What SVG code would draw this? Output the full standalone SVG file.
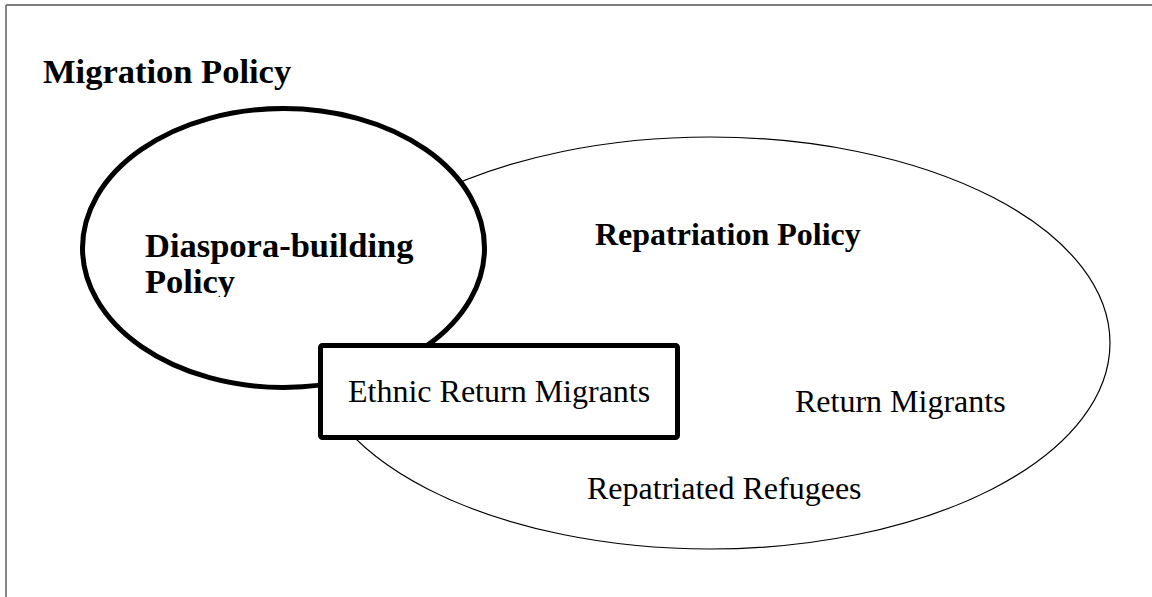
<svg xmlns="http://www.w3.org/2000/svg" width="1152" height="597" viewBox="0 0 1152 597">
<style>
.frame{stroke:#555;stroke-width:1.4;fill:none}
.thin{fill:#fff;stroke:#000;stroke-width:1.2}
.thick{fill:#fff;stroke:#000;stroke-width:5}
.b{font-family:"Liberation Serif","Times New Roman",serif;font-weight:bold;fill:#000}
.r{font-family:"Liberation Serif","Times New Roman",serif;fill:#000}
</style>
<defs>
<clipPath id="clipDias"><rect x="80" y="100" width="420" height="197"/></clipPath>
</defs>
<rect width="1152" height="597" fill="#fff"/>
<g id="frame">
<line class="frame" x1="6" y1="5" x2="1152" y2="5"/>
<line class="frame" x1="6" y1="5" x2="6" y2="597"/>
</g>
<text class="b" x="43" y="83" font-size="34.5">Migration Policy</text>
<g id="connectors"/>
<g id="repatriation">
<ellipse class="thin" cx="710" cy="343" rx="400" ry="206"/>
<text class="b" x="595" y="245" font-size="32">Repatriation Policy</text>
<text class="r" x="795" y="412" font-size="32">Return Migrants</text>
<text class="r" x="587" y="499" font-size="32">Repatriated Refugees</text>
</g>
<g id="diaspora">
<ellipse class="thick" cx="283.5" cy="248" rx="201" ry="139.5"/>
<g clip-path="url(#clipDias)">
<text class="b" x="145" y="257" font-size="34.5">Diaspora-building</text>
<text class="b" x="145" y="293" font-size="34.5">Policy</text>
</g>
</g>
<g id="ethnic">
<rect class="thick" x="320.5" y="345.5" width="357" height="92" rx="2"/>
<text class="r" x="348" y="402" font-size="32">Ethnic Return Migrants</text>
</g>
</svg>
